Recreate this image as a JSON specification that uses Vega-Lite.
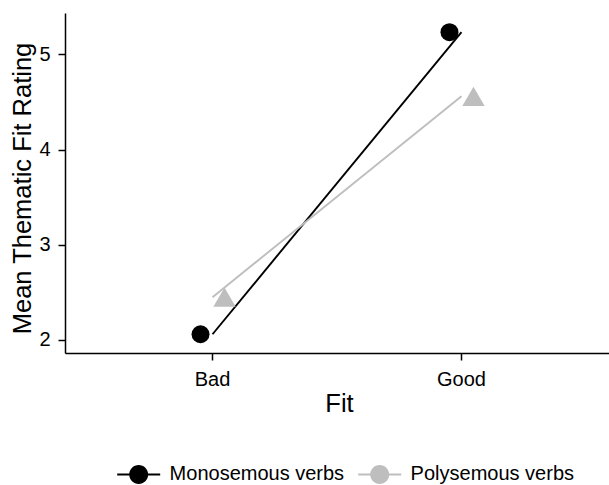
{
  "$schema": "https://vega.github.io/schema/vega-lite/v6.json",
  "autosize": {"type": "none"},
  "padding": {"left": 65, "top": 13, "right": 0, "bottom": 132},
  "width": 544,
  "height": 340,
  "background": "white",
  "config": {"view": {"stroke": null}},
  "data": {
    "values": [
      {"fit": "Bad", "group": "Monosemous verbs", "rating": 2.06},
      {"fit": "Good", "group": "Monosemous verbs", "rating": 5.235},
      {"fit": "Bad", "group": "Polysemous verbs", "rating": 2.45},
      {"fit": "Good", "group": "Polysemous verbs", "rating": 4.56}
    ]
  },
  "encoding": {
    "x": {
      "field": "fit",
      "type": "nominal",
      "sort": ["Bad", "Good"],
      "scale": {"type": "band", "paddingInner": 0.5, "paddingOuter": 0.3425},
      "axis": {
        "title": "Fit",
        "labelAngle": 0,
        "grid": false,
        "domainColor": "black",
        "domainWidth": 1.5,
        "tickColor": "black",
        "tickWidth": 1.5,
        "tickSize": 7,
        "labelFont": "Liberation Sans",
        "labelFontSize": 20,
        "labelColor": "black",
        "labelBaseline": "alphabetic",
        "labelPadding": 25.7,
        "titleFont": "Liberation Sans",
        "titleFontSize": 25.5,
        "titleFontWeight": "normal",
        "titleColor": "black",
        "titleX": 274,
        "titleY": 58.7,
        "titleBaseline": "alphabetic",
        "titleAlign": "center"
      }
    },
    "y": {
      "field": "rating",
      "type": "quantitative",
      "scale": {"domain": [1.863, 5.436], "nice": false, "zero": false},
      "axis": {
        "title": "Mean Thematic Fit Rating",
        "values": [2, 3, 4, 5],
        "grid": false,
        "domainColor": "black",
        "domainWidth": 1.5,
        "tickColor": "black",
        "tickWidth": 1.5,
        "tickSize": 7,
        "labelFont": "Liberation Sans",
        "labelFontSize": 20,
        "labelColor": "black",
        "labelPadding": 8,
        "titleFont": "Liberation Sans",
        "titleFontSize": 25.5,
        "titleFontWeight": "normal",
        "titleColor": "black",
        "titleX": -35,
        "titleY": 175,
        "titleBaseline": "alphabetic",
        "titleAlign": "center",
        "titleAngle": 270
      }
    }
  },
  "layer": [
    {
      "transform": [{"filter": "datum.group === 'Monosemous verbs'"}],
      "mark": {"type": "line", "strokeWidth": 1.9, "color": "#000000"},
      "encoding": {}
    },
    {
      "transform": [{"filter": "datum.group === 'Polysemous verbs'"}],
      "mark": {"type": "line", "strokeWidth": 1.9, "color": "#bebebe"},
      "encoding": {}
    },
    {
      "transform": [{"filter": "datum.group === 'Monosemous verbs'"}],
      "mark": {"type": "point", "filled": true, "opacity": 1, "strokeWidth": 0, "shape": "circle", "size": 324},
      "encoding": {
        "xOffset": {
          "field": "group",
          "type": "nominal",
          "scale": {"type": "band", "domain": ["Monosemous verbs", "Polysemous verbs"], "range": [38.25, 86.25], "paddingInner": 0, "paddingOuter": 0}
        },
        "fill": {
          "field": "group",
          "type": "nominal",
          "scale": {"domain": ["Monosemous verbs", "Polysemous verbs"], "range": ["#000000", "#bebebe"]},
          "legend": {
            "title": null,
            "orient": "none",
            "legendX": 59.2,
            "legendY": 446.7,
            "direction": "horizontal",
            "symbolType": "M-1.5,-0.07L1.5,-0.07L1.5,0.07L-1.5,0.07Z M0.66,0C0.66,0.3645 0.3645,0.66 0,0.66C-0.3645,0.66 -0.66,0.3645 -0.66,0C-0.66,-0.3645 -0.3645,-0.66 0,-0.66C0.3645,-0.66 0.66,-0.3645 0.66,0Z",
            "symbolSize": 822,
            "symbolStrokeWidth": 0,
            "symbolOpacity": 1,
            "labelFont": "Liberation Sans",
            "labelFontSize": 20,
            "labelColor": "black",
            "labelLimit": 400,
            "labelOffset": 16.4,
            "columnPadding": 13,
            "padding": 0
          }
        }
      }
    },
    {
      "transform": [{"filter": "datum.group === 'Polysemous verbs'"}],
      "mark": {"type": "point", "filled": true, "opacity": 1, "strokeWidth": 0, "shape": "triangle-up", "size": 500},
      "encoding": {
        "xOffset": {
          "field": "group",
          "type": "nominal",
          "scale": {"type": "band", "domain": ["Monosemous verbs", "Polysemous verbs"], "range": [38.25, 86.25], "paddingInner": 0, "paddingOuter": 0}
        },
        "fill": {
          "field": "group",
          "type": "nominal",
          "scale": {"domain": ["Monosemous verbs", "Polysemous verbs"], "range": ["#000000", "#bebebe"]},
          "legend": {
            "title": null,
            "orient": "none",
            "legendX": 59.2,
            "legendY": 446.7,
            "direction": "horizontal",
            "symbolType": "M-1.5,-0.07L1.5,-0.07L1.5,0.07L-1.5,0.07Z M0.66,0C0.66,0.3645 0.3645,0.66 0,0.66C-0.3645,0.66 -0.66,0.3645 -0.66,0C-0.66,-0.3645 -0.3645,-0.66 0,-0.66C0.3645,-0.66 0.66,-0.3645 0.66,0Z",
            "symbolSize": 822,
            "symbolStrokeWidth": 0,
            "symbolOpacity": 1,
            "labelFont": "Liberation Sans",
            "labelFontSize": 20,
            "labelColor": "black",
            "labelLimit": 400,
            "labelOffset": 16.4,
            "columnPadding": 13,
            "padding": 0
          }
        }
      }
    }
  ]
}
